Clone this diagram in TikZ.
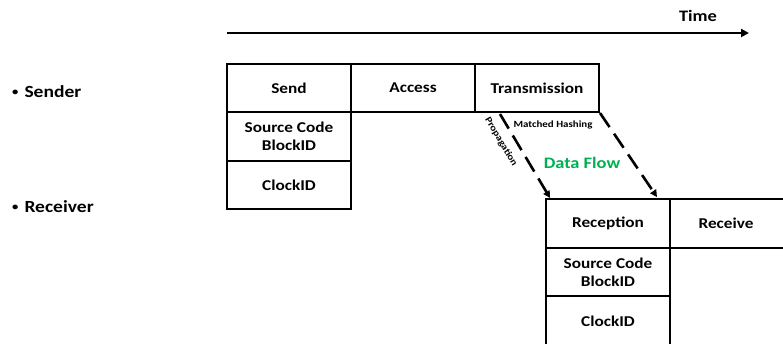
\documentclass[tikz,border=0pt]{standalone}
\usepackage{fontspec}
\setmainfont{Carlito}[FakeStretch=1.15]
\usetikzlibrary{arrows.meta}
\definecolor{flowgreen}{RGB}{0,176,80}
\newcommand{\rowdot}{\raisebox{2.6pt}{\fontsize{11}{11}\selectfont\textbullet}}
\tikzset{
  cell/.style={draw, line width=1.6pt, minimum width=124pt, minimum height=48.5pt,
    inner sep=0pt, align=center, font=\fontsize{15}{18}\selectfont\bfseries},
  lbl/.style={inner sep=0pt, font=\fontsize{16}{19}\selectfont\bfseries},
  rowlbl/.style={inner sep=0pt, anchor=west, font=\fontsize{17}{20}\selectfont\bfseries},
  flow/.style={line width=2.6pt, dash pattern=on 17pt off 8pt,
    -{Triangle[length=7pt,width=7pt]}},
  small/.style={inner sep=0pt, font=\fontsize{9.5}{11}\selectfont\bfseries}
}
\begin{document}
\begin{tikzpicture}[x=1pt,y=-1pt]
\useasboundingbox (0,0) rectangle (783,344);
\clip (0,0) rectangle (783,344);

% time axis
\coordinate (t0) at (227,33);
\coordinate (t1) at (749,33);
\draw[line width=2.4pt, -{Triangle[length=8pt,width=8pt]}] (t0) -- (t1);
\node[lbl] (time) at (698,16) {Time};

% row labels
\node[rowlbl] (sender) at (12,92) {\rowdot\hspace{6pt}Sender};
\node[rowlbl] (receiver) at (12,207) {\rowdot\hspace{6pt}Receiver};

% sender side
\node[cell] (send) at (289,88) {Send};
\node[cell] (access) at (413,88) {Access};
\node[cell] (trans) at (537,88) {Transmission};
\node[cell] (ssrc) at (289,136.5) {Source Code\\BlockID};
\node[cell] (sclk) at (289,185) {ClockID};

% receiver side
\node[cell] (recep) at (608,223.5) {Reception};
\node[cell] (recv) at (732,223.5) {};
\node[lbl, font=\fontsize{15}{18}\selectfont\bfseries] (recvt) at (726,223.5) {Receive};
\node[cell, minimum height=110pt] (rcol) at (732,303) {};
\node[cell] (rsrc) at (608,272) {Source Code\\BlockID};
\node[cell, minimum height=52pt] (rclk) at (608,322) {};
\node[lbl, font=\fontsize{15}{18}\selectfont\bfseries] (rclkt) at (608,321) {ClockID};

% data flow arrows
\coordinate (a0) at (500,114);
\coordinate (a1) at (550,198);
\coordinate (b0) at (600,113);
\coordinate (b1) at (657,197);
\draw[flow] (a0) -- (a1);
\draw[flow] (b0) -- (b1);
\node[small, rotate=-59.4] (prop) at (501,142) {Propagation};
\node[small] (hash) at (553,125) {Matched Hashing};
\node[lbl, text=flowgreen] (flowlbl) at (582,163) {Data Flow};
\end{tikzpicture}
\end{document}
